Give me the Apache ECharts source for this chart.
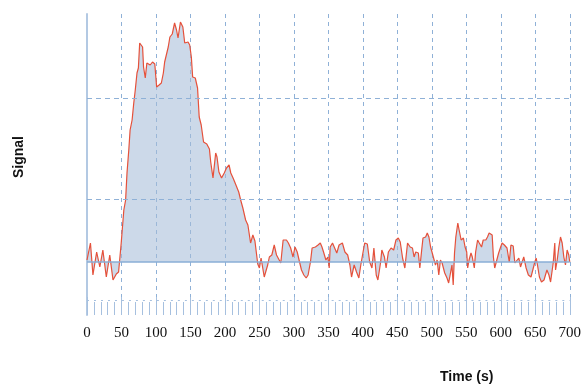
<!DOCTYPE html>
<html>
<head>
<meta charset="utf-8">
<script src="https://cdn.jsdelivr.net/npm/echarts@6/dist/echarts.min.js"></script>
<style>html,body{margin:0;padding:0;background:#fff}#c{width:584px;height:385px}</style>
</head>
<body>
<div id="c"></div>
<script>
// Time (s)
const times = [0,5,8.6,14,18.6,23,28,33,37.7,42.5,45.8,49.6,53.4,56,58,60.6,62.5,65.4,67.8,70,72.5,74.5,76.4,78.3,80.6,82,84.5,86.8,89,91.6,95,98.3,101,104.5,107.8,110.7,112.6,115.5,117.8,120.2,123.6,127,129.8,132,135.5,137.8,139,141.7,146.5,148.9,151.3,153.2,157,160.3,162.7,165.6,169,173.7,176.5,177.5,179.4,182.7,186.6,188.5,191.3,195.1,199,202.3,206,208.5,211.8,214.2,216.6,220,222.8,226,230,233.3,237.2,240.5,243.5,247.6,250,252.4,257,262,264.4,268,271.5,274.8,277.6,281,284.4,289.2,292,295.3,298.7,301.6,304.8,308.2,311,314.4,317.8,320.6,324,326.4,331.2,335,338.3,340.7,343,346.4,349.3,351.2,352.6,356,358.9,362.2,365.5,370.3,374,378,381.2,383.6,387.4,390.8,394.2,397,400.3,402.7,406.5,409.9,413.2,416,419.4,421.8,425.6,427.5,431.3,433.7,437,440.9,444.7,448,451.4,454.2,457.6,460.9,464.8,468.6,471.9,474.3,476.7,480.5,482.6,485.3,487.2,491,493.4,495.8,498.2,500.6,503,505.3,507.7,510.1,512.5,514.9,518.7,522,524.4,526.8,529.2,531,532.9,534.8,537.7,539.6,542.5,545.8,548.2,550.6,552,554,556.8,558.7,561.6,563.5,566.4,568.8,572.1,574.5,578.3,580.7,583.1,585.5,587.5,589.3,591.2,594,596.9,599.8,601.9,605.2,609,612.3,614.7,618,620.4,623.3,626.2,628.6,631,633.3,636.7,640,643.8,646.7,649.4,651.3,653.2,656,659,662.7,666.9,669.8,672.2,674.1,676,678.3,679.4,681.8,684.2,686.6,689,691.4,693.8,696.2,698.6,700];
// Signal (arbitrary units)
const signal = [2,19,-13,10,-5,12,-15,7,-18,-12,-10,19,52,62,89,112,132,142,159,172,189,194,219,220,215,195,184,199,200,197,200,198,175,177,179,189,200,202,215,225,228,239,232,224,240,240,235,219,220,217,205,185,184,174,145,137,120,118,119,113,100,84,109,105,90,84,89,94,97,89,84,80,81,70,62,54,42,37,19,27,21,-2,-6,4,-15,-3,5,7,17,7,5,-1,22,22,19,14,5,15,10,0,-8,-13,-16,-13,0,14,15,17,19,15,10,2,5,-6,15,19,20,9,17,19,10,7,-3,-15,-3,-10,-16,-3,10,19,18,0,-6,14,-13,-18,-1,12,5,-6,10,14,12,22,24,20,4,-6,19,15,14,5,10,9,-6,12,24,25,29,25,15,9,10,-3,2,-13,2,-1,-11,-16,-21,-20,-3,-23,9,25,39,32,22,24,15,10,-6,2,9,5,-6,10,22,19,15,22,22,25,29,30,27,5,-6,-8,9,15,19,17,14,0,17,16,-1,-3,4,-5,-6,5,-6,-13,-15,-13,0,4,-3,-15,-20,-18,-8,-13,-20,-21,-1,19,-8,2,15,25,19,5,-3,12,7,0];
// Horizontal reference levels
const refLevels = [63, 164];
const xTicks = [0,50,100,150,200,250,300,350,400,450,500,550,600,650,700];

const gridColor = '#8fb1d7';
const chart = echarts.init(document.getElementById('c'), null, {renderer:'canvas'});
const data = times.map((t,i)=>[t, signal[i]]);
chart.setOption({
  animation:false,
  backgroundColor:'#fff',
  grid:{left:87,right:8,top:14,bottom:70,containLabel:false},
  xAxis:{
    type:'value', min:xTicks[0], max:xTicks[xTicks.length-1], interval:50,
    axisLine:{show:false, onZero:false},
    axisTick:{show:true, inside:true, length:18, lineStyle:{color:'#a6c0df', width:1}},
    minorTick:{show:true, splitNumber:5, length:13, lineStyle:{color:'#a6c0df', width:1}},
    splitLine:{show:true, lineStyle:{color:gridColor, type:[4,4], width:1}},
    axisLabel:{margin:11, color:'#111', fontFamily:'Liberation Serif', fontSize:15}
  },
  yAxis:{
    type:'value', min:-53, max:248,
    axisLine:{show:true, onZero:false, lineStyle:{color:'#b3c9e3', width:2}},
    axisTick:{show:false}, axisLabel:{show:false}, splitLine:{show:false}
  },
  series:[
    {
      type:'line', data:[[0,0]], symbol:'none', silent:true, z:1,
      lineStyle:{opacity:0},
      markLine:{
        silent:true, symbol:'none', label:{show:false}, animation:false,
        data:[
          {yAxis:refLevels[0], lineStyle:{color:gridColor, type:[5,4], width:1}},
          {yAxis:refLevels[1], lineStyle:{color:gridColor, type:[5,4], width:1}},
          {yAxis:-38, lineStyle:{color:'#a6c0df', type:[2,4.99], width:1}}
        ]
      }
    },
    {
      type:'line', data:data, symbol:'none', smooth:false, z:3,
      lineStyle:{color:'#e5513b', width:1.2},
      areaStyle:{color:'rgba(164,187,216,0.8)', origin:0},
      markLine:{
        silent:true, symbol:'none', label:{show:false}, animation:false,
        data:[{yAxis:0, lineStyle:{color:'#8aaed6', type:'solid', width:1.5}}]
      }
    }
  ],
  graphic:[
    {type:'text', left:440, top:370, style:{text:'Time (s)', font:'bold 14px "Liberation Sans"', fill:'#111'}},
    {type:'text', x:19, y:157, rotation:Math.PI/2, style:{text:'Signal', font:'bold 14px "Liberation Sans"', fill:'#111', align:'center', verticalAlign:'middle'}}
  ]
});
</script>
</body>
</html>
